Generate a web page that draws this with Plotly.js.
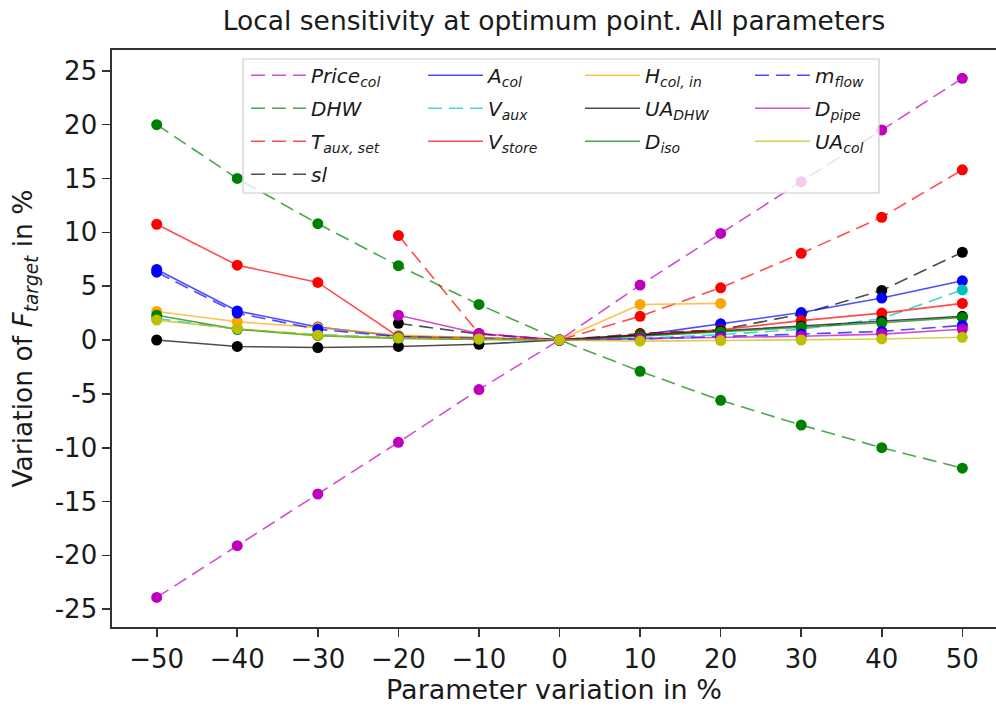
<!DOCTYPE html>
<html>
<head>
<meta charset="utf-8">
<script src="https://cdn.plot.ly/plotly-3.0.1.min.js"></script>
<style>
  html, body { margin: 0; padding: 0; background: #ffffff; overflow: hidden; }
  #chart { width: 996px; height: 709px; }
</style>
</head>
<body>
<div id="chart"></div>
<script>
// Parameter variation (%) used for every series
const variation = [-50, -40, -30, -20, -10, 0, 10, 20, 30, 40, 50];

// Variation of F_target (%) per parameter; null where no run exists
const priceCol = [-23.9, -19.1, -14.3, -9.5, -4.6, 0, 5.1, 9.9, 14.7, 19.5, 24.3];
const dhw      = [20.0, 15.0, 10.8, 6.9, 3.3, 0, -2.9, -5.6, -7.9, -10.0, -11.9];
const tAuxSet  = [null, null, null, 9.7, 0.6, 0, 2.2, 4.85, 8.05, 11.4, 15.8];
const sl       = [null, null, null, 1.55, 0.55, 0, 0.6, 0.95, 2.4, 4.6, 8.15];
const aCol     = [6.55, 2.7, 1.2, 0.35, 0.2, 0, 0.45, 1.5, 2.55, 3.9, 5.5];
const vAux     = [2.0, 1.0, 0.5, 0.2, 0.1, 0, 0.15, 0.5, 1.0, 2.0, 4.65];
const vStore   = [10.75, 6.95, 5.35, 0.3, 0.2, 0, 0.5, 0.95, 1.8, 2.5, 3.4];
const hColIn   = [2.65, 1.7, 1.15, 0.45, 0.2, 0, 3.3, 3.4, null, null, null];
const uaDhw    = [0.0, -0.6, -0.7, -0.6, -0.4, 0, 0.4, 0.85, 1.3, 1.75, 2.2];
const dIso     = [2.3, 1.0, 0.4, 0.15, 0.05, 0, 0.35, 0.75, 1.2, 1.6, 2.1];
const mFlow    = [6.3, 2.5, 1.0, 0.3, 0.15, 0, 0.1, 0.3, 0.55, 0.8, 1.35];
const dPipe    = [null, null, null, 2.3, 0.6, 0, 0.1, 0.2, 0.35, 0.55, 1.0];
const uaCol    = [1.85, 1.05, 0.45, 0.2, 0.1, 0, -0.1, -0.05, 0.0, 0.1, 0.25];

// Axis tick labels
const xTickVals = [-50, -40, -30, -20, -10, 0, 10, 20, 30, 40, 50];
const xTickText = ['\u221250', '\u221240', '\u221230', '\u221220', '\u221210', '0', '10', '20', '30', '40', '50'];
const yTickVals = [25, 20, 15, 10, 5, 0, -5, -10, -15, -20, -25];
const yTickText = ['25', '20', '15', '10', '5', '0', '-5', '-10', '-15', '-20', '-25'];

const FONT = 'DejaVu Sans, sans-serif';
const DASH = '14px,7px';

// name, values, colour (r,g,b), dashed?, legend column
const series = [
  ['<i>Price</i><sub><i>col</i></sub>',   priceCol, [191, 0, 191],   true,  'legend'],
  ['<i>DHW</i>',                          dhw,      [0, 128, 0],     true,  'legend'],
  ['<i>T</i><sub><i>aux, set</i></sub>',  tAuxSet,  [255, 0, 0],     true,  'legend'],
  ['<i>sl</i>',                           sl,       [0, 0, 0],       true,  'legend'],
  ['<i>A</i><sub><i>col</i></sub>',       aCol,     [0, 0, 255],     false, 'legend2'],
  ['<i>V</i><sub><i>aux</i></sub>',       vAux,     [0, 191, 191],   true,  'legend2'],
  ['<i>V</i><sub><i>store</i></sub>',     vStore,   [255, 0, 0],     false, 'legend2'],
  ['<i>H</i><sub><i>col, in</i></sub>',   hColIn,   [255, 165, 0],   false, 'legend3'],
  ['<i>UA</i><sub><i>DHW</i></sub>',      uaDhw,    [0, 0, 0],       false, 'legend3'],
  ['<i>D</i><sub><i>iso</i></sub>',       dIso,     [0, 128, 0],     false, 'legend3'],
  ['<i>m</i><sub><i>flow</i></sub>',      mFlow,    [0, 0, 255],     true,  'legend4'],
  ['<i>D</i><sub><i>pipe</i></sub>',      dPipe,    [191, 0, 191],   false, 'legend4'],
  ['<i>UA</i><sub><i>col</i></sub>',      uaCol,    [191, 191, 0],   false, 'legend4']
];

const traces = [];
series.forEach(([name, vals, rgb, dashed, leg], i) => {
  const solid = `rgb(${rgb.join(',')})`;
  const faded = `rgba(${rgb.join(',')},0.7)`;
  traces.push({
    x: variation, y: vals, name: name, type: 'scatter', mode: 'lines',
    line: { color: faded, width: 1.6, dash: dashed ? DASH : 'solid' },
    legend: leg, legendgroup: 'g' + i, showlegend: true, hoverinfo: 'skip'
  });
  traces.push({
    x: variation, y: vals, name: name, type: 'scatter', mode: 'markers',
    marker: { color: solid, size: 11 },
    legend: leg, legendgroup: 'g' + i, showlegend: false, hoverinfo: 'skip'
  });
});

const legendBase = {
  bgcolor: 'rgba(0,0,0,0)', borderwidth: 0,
  font: { family: FONT, size: 20, color: '#1a1a1a' },
  orientation: 'v', xanchor: 'left', yanchor: 'top',
  itemwidth: 55, traceorder: 'grouped', tracegroupgap: 4, itemclick: false
};

const layout = {
  width: 996, height: 709,
  margin: { l: 112, r: 0, t: 50, b: 82 },
  paper_bgcolor: '#ffffff', plot_bgcolor: '#ffffff',
  font: { family: FONT, size: 26, color: '#1a1a1a' },
  title: {
    text: 'Local sensitivity at optimum point. All parameters',
    font: { family: FONT, size: 26.5, color: '#1a1a1a' },
    x: 0.5, xref: 'paper', xanchor: 'center',
    y: 0.971, yref: 'container', yanchor: 'middle'
  },
  xaxis: {
    range: [-55.55, 54.18],
    tickmode: 'array', tickvals: xTickVals, ticktext: xTickText,
    ticks: 'outside', ticklen: 8, tickwidth: 1.6, tickcolor: '#333',
    showline: true, linecolor: '#333', linewidth: 1.6, mirror: true,
    showgrid: false, zeroline: false,
    tickfont: { family: FONT, size: 26, color: '#1a1a1a' },
    title: { text: 'Parameter variation in %', font: { family: FONT, size: 27, color: '#1a1a1a' }, standoff: 6 }
  },
  yaxis: {
    range: [-26.65, 26.93],
    tickmode: 'array', tickvals: yTickVals, ticktext: yTickText,
    ticks: 'outside', ticklen: 8, tickwidth: 1.6, tickcolor: '#333',
    showline: true, linecolor: '#333', linewidth: 1.6, mirror: false,
    showgrid: false, zeroline: false,
    tickfont: { family: FONT, size: 26, color: '#1a1a1a' },
    title: { text: 'Variation of <i>F</i><sub><i>target</i></sub> in %', font: { family: FONT, size: 26.5, color: '#1a1a1a' }, standoff: 14 }
  },
  shapes: [{
    type: 'rect', xref: 'paper', yref: 'paper',
    x0: 0.1482, x1: 0.8676, y0: 0.7522, y1: 0.9844,
    fillcolor: 'rgba(255,255,255,0.8)', line: { color: '#cccccc', width: 1.2 },
    layer: 'above'
  }],
  legend:  Object.assign({}, legendBase, { x: 0.1516, y: 0.990 }),
  legend2: Object.assign({}, legendBase, { x: 0.3518, y: 0.990 }),
  legend3: Object.assign({}, legendBase, { x: 0.5294, y: 0.990 }),
  legend4: Object.assign({}, legendBase, { x: 0.7217, y: 0.990 }),
  showlegend: true
};

Plotly.newPlot('chart', traces, layout, { displayModeBar: false, staticPlot: true });
</script>
</body>
</html>
